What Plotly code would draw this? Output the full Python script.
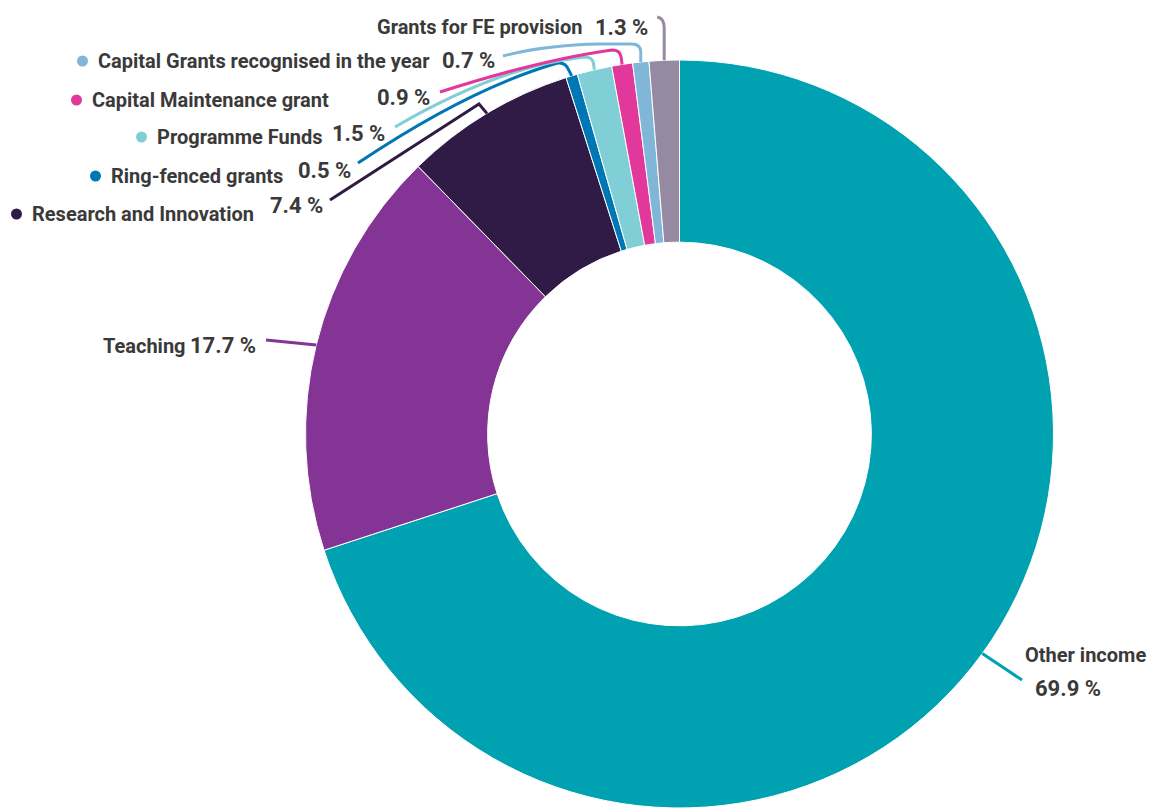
import math
import plotly.graph_objects as go

# Income breakdown (percent of total)
categories = [
    "Other income",
    "Teaching",
    "Research and Innovation",
    "Ring-fenced grants",
    "Programme Funds",
    "Capital Maintenance grant",
    "Capital Grants recognised in the year",
    "Grants for FE provision",
]
shares = [69.9, 17.7, 7.4, 0.5, 1.5, 0.9, 0.7, 1.3]
colors = ["#00A1B0", "#833495", "#2F1B46", "#0077B5",
          "#80CFD6", "#E3389B", "#80B7D9", "#958AA1"]

W, H = 1149, 808
CX, CY, R = 679.5, 434.0, 374.0
HOLE = 0.513
FONT = "Roboto"
TXT = "#3A3A3A"
NAME_SIZE, PCT_SIZE = 20, 22

fig = go.Figure()
fig.add_trace(go.Pie(
    labels=categories, values=shares, sort=False, direction="clockwise",
    rotation=0, hole=HOLE, textinfo="none", hoverinfo="label+percent",
    marker=dict(colors=colors, line=dict(color="white", width=1)),
    domain=dict(x=[(CX - R) / W, (CX + R) / W], y=[0, 1 - (CY - R) / H]),
    showlegend=False,
))

# Mid-angle anchor on the outer rim of each slice
total = sum(shares)
anchors = []
cum = 0.0
for v in shares:
    a = math.radians(360.0 * (cum + v / 2) / total)
    anchors.append((CX + R * math.sin(a), CY - R * math.cos(a)))
    cum += v


def leader(i, build):
    sx, sy = anchors[i]
    fig.add_shape(type="path", xref="x", yref="y", path=build(sx, sy),
                  line=dict(color=colors[i], width=3))


leader(0, lambda sx, sy: f"M {sx},{sy} L 1022,680")
leader(1, lambda sx, sy: f"M {sx},{sy} L 266,340")
leader(2, lambda sx, sy: f"M {sx},{sy} L 479,104 L 330,200")
leader(3, lambda sx, sy: f"M {sx},{sy} L {sx-3},70 Q {sx-6},62 {sx-14},63 Q 470,88 358,163")
leader(4, lambda sx, sy: f"M {sx},{sy} L {sx-1},63 Q {sx-2},57 {sx-10},57 Q 500,66 395,127")
leader(5, lambda sx, sy: f"M {sx},{sy} L {sx-1},57 Q {sx-2},50 {sx-10},50 Q 540,60 440,92")
leader(6, lambda sx, sy: f"M {sx},{sy} L {sx},52 Q {sx},44 {sx-9},44 L 600,44 Q 545,45 503,56")
leader(7, lambda sx, sy: f"M {sx},{sy} L {sx},28 Q {sx},18 {sx-7},17")

# Label layout: name position, percentage position, optional bullet
name_pos = [(1023, 655), (101, 346), (30, 214), (109, 176),
            (155, 137), (90, 100), (96, 61), (375, 27)]
pct_pos = [(1033, 688), (188, 345), (268, 205), (296, 170),
           (330, 133), (375, 97), (440, 60), (593, 27)]
show_dot = [False, False, True, True, True, True, True, False]
pct_text = [f"{v} %" for v in shares]


def label(x, y, text, size):
    fig.add_annotation(x=x, y=y, xref="x", yref="y", xanchor="left",
                       yanchor="middle", showarrow=False, text=text,
                       font=dict(family=FONT, size=size, color=TXT, weight=700))


for i, name in enumerate(categories):
    nx, ny = name_pos[i]
    px, py = pct_pos[i]
    label(nx, ny, name, NAME_SIZE)
    label(px, py, pct_text[i], PCT_SIZE)
    if show_dot[i]:
        fig.add_shape(type="circle", xref="x", yref="y",
                      x0=nx - 19, x1=nx - 8, y0=ny - 5.5, y1=ny + 5.5,
                      fillcolor=colors[i], line=dict(width=0))

fig.update_layout(
    width=W, height=H, margin=dict(l=0, r=0, t=0, b=0),
    paper_bgcolor="white", plot_bgcolor="rgba(0,0,0,0)",
    xaxis=dict(range=[0, W], visible=False, fixedrange=True),
    yaxis=dict(range=[H, 0], visible=False, fixedrange=True),
)

fig.write_html("out.html")
